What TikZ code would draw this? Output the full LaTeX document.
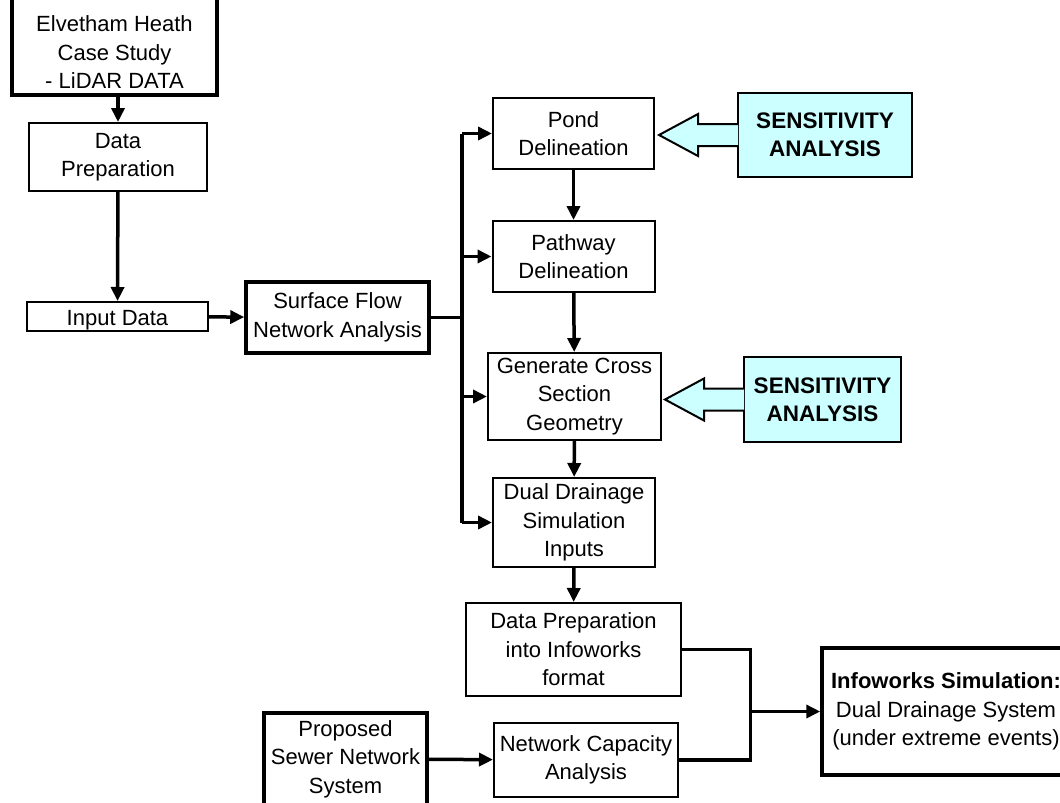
\documentclass[tikz,border=0pt]{standalone}
\usepackage{fontspec}
\setmainfont{Liberation Sans}
\usetikzlibrary{arrows.meta,calc}
\definecolor{senscyan}{HTML}{CCFFFF}

\begin{document}
\begin{tikzpicture}[x=1pt,y=-1pt,
  font=\fontsize{22}{28.5}\selectfont,
  box/.style={draw,line width=2pt,align=center,inner sep=0pt},
  thickbox/.style={box,line width=3.5pt},
  sensbox/.style={box,fill=senscyan,font=\fontsize{22.5}{28.5}\selectfont\bfseries},
  link/.style={line width=3.5pt},
  flow/.style={link,-{Triangle[length=14pt,width=13pt]}},
  sensarrow/.style={fill=senscyan,draw,line width=2pt}]
\useasboundingbox (0,0) rectangle (1060,803);
\clip (0,0) rectangle (1060,803);

% Boxes
\node[thickbox,minimum width=205,minimum height=100] (elv) at (114.5,45) {\rule{0pt}{30pt}Elvetham Heath\\Case Study\\- LiDAR DATA};
\node[box,minimum width=178,minimum height=68] (dprep) at (118,157) {Data\\Preparation};
\node[box,minimum width=181,minimum height=29] (input) at (117.5,316.5) {\rule{0pt}{22pt}Input Data};
\node[thickbox,minimum width=183,minimum height=71] (sfna) at (337.5,317.5) {Surface Flow\\Network Analysis};
\node[box,minimum width=161,minimum height=71] (pond) at (573.5,133.5) {Pond\\Delineation};
\node[box,minimum width=162,minimum height=71] (path) at (573.5,256.5) {Pathway\\Delineation};
\node[box,minimum width=173,minimum height=87] (gcsg) at (574.5,396.5) {Generate Cross\\Section\\Geometry};
\node[box,minimum width=162,minimum height=89] (dds) at (574,522.5) {Dual Drainage\\Simulation\\Inputs};
\node[box,minimum width=215,minimum height=93] (dpi) at (573.5,649.5) {Data Preparation\\into Infoworks\\format};
\node[box,minimum width=184,minimum height=74] (ncap) at (586,760) {Network Capacity\\Analysis};
\node[thickbox,minimum width=163,minimum height=92] (psns) at (345.5,759) {Proposed\\Sewer Network\\System};
\node[thickbox,minimum width=248,minimum height=127] (info) at (946,711.5) {\textbf{Infoworks Simulation:}\\Dual Drainage System\\(under extreme events)};

% Sensitivity analysis
\node[sensbox,minimum width=174,minimum height=84] (sens1) at (825,135) {SENSITIVITY\\ANALYSIS};
\node[sensbox,minimum width=157,minimum height=85] (sens2) at (822.5,399.5) {SENSITIVITY\\ANALYSIS};
\filldraw[sensarrow] ($(sens1.west)+(1,-11)$) -- ++(-40,0) -- ++(0,-10) -- ($(sens1.west)+(-78,0)$)
  -- ($(sens1.west)+(-39,21)$) -- ++(0,-10) -- ($(sens1.west)+(1,11)$);
\filldraw[sensarrow] ($(sens2.west)+(1,-11)$) -- ++(-40,0) -- ++(0,-10) -- ($(sens2.west)+(-78,0)$)
  -- ($(sens2.west)+(-39,21)$) -- ++(0,-10) -- ($(sens2.west)+(1,11)$);

% Connectors
\draw[flow] (elv.south -| dprep.north) -- (dprep.north);
\draw[flow] (dprep) -- (input);
\draw[flow] (input) -- (sfna);
\draw[link] (sfna.east) -- ++(31,0) coordinate (bus);
\draw[link] (bus |- pond.west) -- (bus |- dds.west);
\draw[flow] (bus |- pond.west) -- (pond.west);
\draw[flow] (bus |- path.west) -- (path.west);
\draw[flow] (bus |- gcsg.west) -- (gcsg.west);
\draw[flow] (bus |- dds.west) -- (dds.west);
\draw[flow] (pond) -- (path);
\draw[flow] (path) -- (gcsg);
\draw[flow] (gcsg) -- (dds);
\draw[flow] (dds) -- (dpi);
\draw[flow] (psns) -- (ncap);
\coordinate (join) at ($(info.west)+(-70,0)$);
\draw[link] (dpi.east) -| (join |- ncap.east) -- (ncap.east);
\draw[flow] (join) -- (info.west);
\end{tikzpicture}
\end{document}
